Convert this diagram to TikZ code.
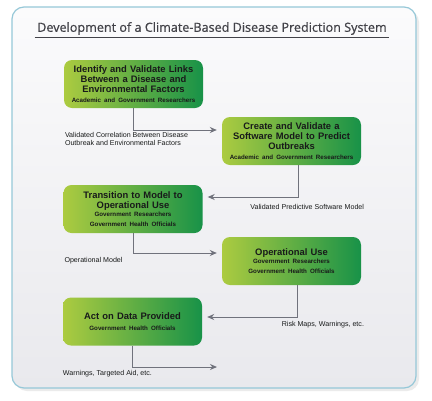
\documentclass[tikz,border=0pt]{standalone}
\usepackage{fontspec}
\setmainfont{Liberation Sans}
\newfontfamily\titlefont[FakeBold=0.7]{Open Sans}
\usetikzlibrary{arrows.meta,positioning}

\definecolor{framecol}{RGB}{150,200,216}
\definecolor{panelhi}{RGB}{251,251,252}
\definecolor{panello}{RGB}{233,233,237}
\definecolor{boxlight}{RGB}{172,203,64}
\definecolor{boxdark}{RGB}{24,146,72}
\definecolor{linkcol}{RGB}{112,114,124}
\definecolor{inkcol}{RGB}{24,26,26}
\definecolor{titlecol}{RGB}{66,66,72}

\tikzset{
  stage/.style={rounded corners=8pt, left color=boxlight, right color=boxdark,
    minimum width=139pt, minimum height=48pt, text width=136pt, align=center,
    inner sep=1pt, text=inkcol, font=\bfseries\fontsize{9.4}{9.9}\selectfont},
  flow/.style={draw=linkcol, line width=1pt, -{Stealth[length=7pt,width=6pt]}, shorten >=5pt},
  note/.style={font=\fontsize{7.1}{8}\selectfont, text=inkcol, inner sep=0pt, align=left},
}
\newcommand{\who}[1]{\\[0.5pt]{\fontsize{6.2}{7.2}\selectfont #1}}

\begin{document}
\begin{tikzpicture}[x=1pt,y=-1pt]
\useasboundingbox (0,0) rectangle (432,400);
\fill[white] (0,0) rectangle (432,400);
% panel
\fill[black!8, rounded corners=12pt] (15,10) rectangle (419,391);
\draw[framecol, line width=1.2pt, rounded corners=12pt, top color=panelhi, bottom color=panello]
  (12,7) rectangle (416,388);
\node[minimum width=354pt, inner sep=2.5pt, text=titlecol, font=\titlefont\fontsize{12.6}{14}\selectfont]
  (title) at (212,28.5) {Development of a Climate-Based Disease Prediction System};
\draw[titlecol, line width=1.4pt] (title.south west) -- (title.south east);

% stages
\node[stage] (find) at (133.5,84) {Identify and Validate Links\\Between a Disease and\\Environmental Factors\who{Academic and Government Researchers}};
\node[stage] (model) at (291.5,141) {Create and Validate a\\Software Model to Predict\\Outbreaks\who{Academic and Government Researchers}};
\node[stage] (move) at (133,209) {Transition to Model to\\Operational Use\who{Government Researchers\\Government Health Officials}};
\node[stage] (ops) at (291.5,261) {Operational Use\who{Government Researchers\\Government Health Officials}};
\node[stage] (act) at (132.5,321.5) {Act on Data Provided\who{Government Health Officials}};
\coordinate (out) at (222,367);

% connectors
\draw[flow] (find.south) |- ([yshift=11pt]model.west);
\draw[flow] ([xshift=7pt]model.south) |- ([yshift=12pt]move.east);
\draw[flow] (move.south) |- ([yshift=8pt]ops.west);
\draw[flow] ([xshift=6pt]ops.south) |- ([yshift=4.5pt]act.east);
\draw[flow] (act.south) |- (out);

% outputs
\node[note, below right=24pt and 1pt of find.south west] (res1) {Validated Correlation Between Disease\\Outbreak and Environmental Factors};
\node[note, below left=39pt and -3pt of model.south east] (res2) {Validated Predictive Software Model};
\node[note, below right=24pt and 1pt of move.south west] (res3) {Operational Model};
\node[note, below left=36pt and -3pt of ops.south east] (res4) {Risk Maps, Warnings, etc.};
\node[note, below right=24pt and 0pt of act.south west] (res5) {Warnings, Targeted Aid, etc.};
\end{tikzpicture}
\end{document}
